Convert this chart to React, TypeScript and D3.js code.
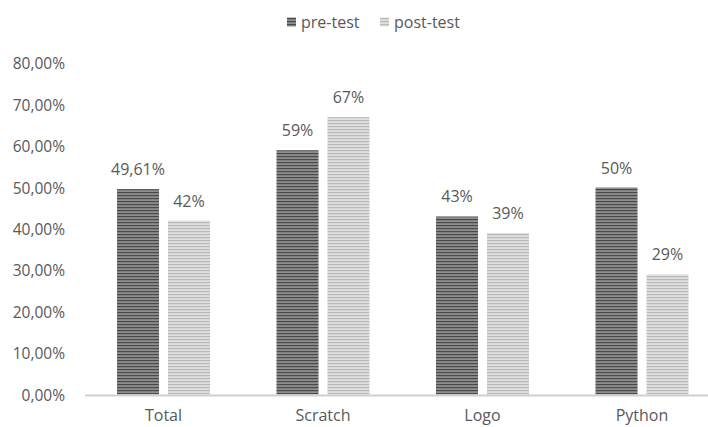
import React from "react";
import * as d3 from "d3";

const categories = ["Total", "Scratch", "Logo", "Python"];
const seriesNames = ["pre-test", "post-test"];
const preValues = [49.61, 59, 43, 50];
const postValues = [42, 67, 39, 29];
const preLabels = ["49,61%", "59%", "43%", "50%"];
const postLabels = ["42%", "67%", "39%", "29%"];
const yTicks = [0, 10, 20, 30, 40, 50, 60, 70, 80];

const W = 708;
const H = 427;
const FONT = "'Open Sans', sans-serif";
const TXT = "#595959";
const FS = 16;

export default function App() {
  const y = d3.scaleLinear().domain([0, 80]).range([394.5, 63.3]);
  const x0 = d3.scaleBand().domain(categories).range([83.75, 721.75]).padding(0);
  const x1 = d3
    .scaleBand()
    .domain(seriesNames)
    .range([-46.5, 46.5])
    .paddingInner(0.176);
  const fmt = (v: number) => d3.format(".2f")(v).replace(".", ",") + "%";

  const series = [
    { name: seriesNames[0], values: preValues, labels: preLabels, fill: "url(#patPre)" },
    { name: seriesNames[1], values: postValues, labels: postLabels, fill: "url(#patPost)" },
  ];

  return (
    <svg
      width={W}
      height={H}
      style={{ position: "absolute", left: 0, top: 0, background: "#fff" }}
      fontFamily={FONT}
    >
      <defs>
        <pattern id="patPre" width="4" height="3" patternUnits="userSpaceOnUse">
          <rect width="4" height="3" fill="#8e8e8e" />
          <rect width="4" height="1.2" fill="#4a4a4a" />
        </pattern>
        <pattern id="patPost" width="4" height="3" patternUnits="userSpaceOnUse">
          <rect width="4" height="3" fill="#e0e0e0" />
          <rect width="4" height="1.2" fill="#b8b8b8" />
        </pattern>
      </defs>
      <rect width={W} height={H} fill="#fff" />

      {/* Legend */}
      <g fontSize={FS} fill={TXT}>
        <rect x={287} y={17.5} width={9} height={9} fill="url(#patPre)" />
        <text x={301} y={22} dominantBaseline="central">pre-test</text>
        <rect x={380} y={17.5} width={9} height={9} fill="url(#patPost)" />
        <text x={394} y={22} dominantBaseline="central">post-test</text>
      </g>

      {/* Y axis labels */}
      <g fontSize={15.5} fill={TXT} textAnchor="end">
        {yTicks.map((t) => (
          <text key={t} x={65} y={y(t)} dominantBaseline="central">
            {fmt(t)}
          </text>
        ))}
      </g>

      {/* Bars */}
      {series.map((s) => (
        <g key={s.name}>
          {categories.map((c, i) => {
            const cx = (x0(c) as number) + x0.bandwidth() / 2;
            const bx = cx + (x1(s.name) as number);
            const top = y(s.values[i]);
            return (
              <g key={c}>
                <rect
                  x={bx}
                  y={top}
                  width={x1.bandwidth()}
                  height={y(0) - top}
                  fill={s.fill}
                />
                <text
                  x={bx + x1.bandwidth() / 2}
                  y={top - 20}
                  dominantBaseline="central"
                  textAnchor="middle"
                  fontSize={FS}
                  fill={TXT}
                >
                  {s.labels[i]}
                </text>
              </g>
            );
          })}
        </g>
      ))}

      {/* X axis line */}
      <line x1={85} x2={W} y1={y(0) + 1} y2={y(0) + 1} stroke="#d0d0d0" strokeWidth={2} />

      {/* Category labels */}
      <g fontSize={FS} fill={TXT} textAnchor="middle">
        {categories.map((c) => (
          <text
            key={c}
            x={(x0(c) as number) + x0.bandwidth() / 2}
            y={415}
            dominantBaseline="central"
          >
            {c}
          </text>
        ))}
      </g>
    </svg>
  );
}
